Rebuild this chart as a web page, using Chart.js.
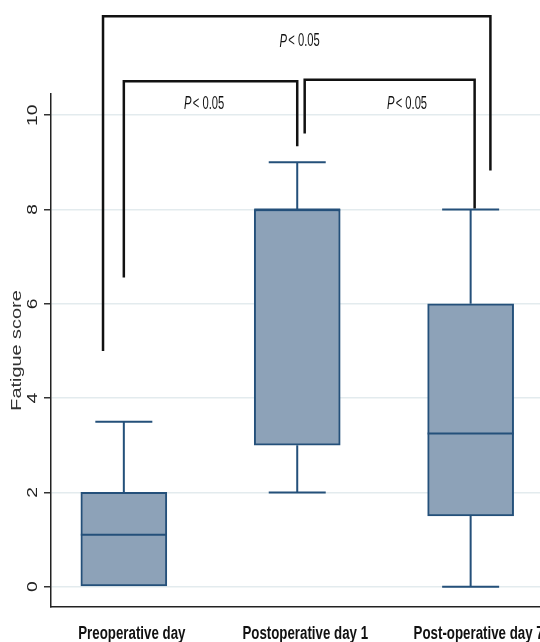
<!DOCTYPE html>
<html>
<head>
<meta charset="utf-8">
<script src="https://cdn.jsdelivr.net/npm/chart.js@4"></script>
<style>
  html, body { margin: 0; padding: 0; background: #fff; }
</style>
</head>
<body>
<canvas id="myChart" width="540" height="642"></canvas>
<script>
const groups = ["Preoperative day", "Postoperative day 1", "Post-operative day 7"];
const whiskerLow = [0, 2, 0];
const quartile1 = [0, 3, 1.5];
const medians = [1.1, 8, 3.25];
const quartile3 = [2, 8, 6];
const whiskerHigh = [3.5, 9, 8];
const yTicks = [0, 2, 4, 6, 8, 10];
const yTitle = "Fatigue score";
const pText = "< 0.05";

// comparison brackets (x in group index units, y in score units)
const brackets = [
  { x1: -0.12, x2: 2.114, top: 12.1, end1: 5.0, end2: 8.83, tx: 1.014, ty: 11.56 },
  { x1: 0.0, x2: 1.0, top: 10.72, end1: 6.56, end2: 9.34, tx: 0.463, ty: 10.23 },
  { x1: 1.043, x2: 2.023, top: 10.75, end1: 9.61, end2: 8.02, tx: 1.633, ty: 10.23 },
];

const boxFill = "#8da2b8";
const boxLine = "#24507a";
const sans = "'Liberation Sans', Arial, sans-serif";
const squeeze = 0.78; // the source picture is stretched vertically

const boxParts = {
  id: "boxParts",
  afterDatasetsDraw(chart) {
    const { ctx, scales } = chart;
    const meta = chart.getDatasetMeta(0);
    ctx.save();
    ctx.strokeStyle = boxLine;
    ctx.lineWidth = 2;
    meta.data.forEach((bar, i) => {
      const cx = bar.x;
      const half = bar.width / 2;
      const cap = 28.5;
      const y = (v) => scales.y.getPixelForValue(v);
      ctx.beginPath();
      // median
      ctx.moveTo(cx - half, y(medians[i]));
      ctx.lineTo(cx + half, y(medians[i]));
      // upper whisker
      if (whiskerHigh[i] > quartile3[i]) {
        ctx.moveTo(cx, y(quartile3[i]));
        ctx.lineTo(cx, y(whiskerHigh[i]));
        ctx.moveTo(cx - cap, y(whiskerHigh[i]));
        ctx.lineTo(cx + cap, y(whiskerHigh[i]));
      }
      // lower whisker
      if (whiskerLow[i] < quartile1[i]) {
        ctx.moveTo(cx, y(quartile1[i]));
        ctx.lineTo(cx, y(whiskerLow[i]));
        ctx.moveTo(cx - cap, y(whiskerLow[i]));
        ctx.lineTo(cx + cap, y(whiskerLow[i]));
      }
      ctx.stroke();
    });
    ctx.restore();
  },
  afterDraw(chart) {
    const { ctx, scales } = chart;
    const px = (v) => scales.x.getPixelForValue(v);
    const py = (v) => scales.y.getPixelForValue(v);
    ctx.save();
    ctx.fillStyle = "#222";
    ctx.textAlign = "center";
    ctx.textBaseline = "middle";

    // rotated y tick labels
    ctx.font = "15px " + sans;
    scales.y.ticks.forEach((t) => {
      ctx.save();
      ctx.translate(33, py(t.value));
      ctx.rotate(-Math.PI / 2);
      ctx.scale(1 / squeeze, 1);
      ctx.fillText(String(t.value), 0, 0);
      ctx.restore();
    });

    // y title
    ctx.save();
    ctx.fillStyle = "#333";
    ctx.font = "15.5px " + sans;
    ctx.translate(17, (scales.y.top + scales.y.bottom) / 2);
    ctx.rotate(-Math.PI / 2);
    ctx.scale(1 / squeeze, 1);
    ctx.fillText(yTitle, 0, 0);
    ctx.restore();

    // x category labels
    ctx.fillStyle = "#111";
    ctx.font = "bold 17.5px " + sans;
    ctx.textBaseline = "alphabetic";
    scales.x.ticks.forEach((t) => {
      ctx.save();
      ctx.translate(px(t.value) + 8, 639);
      ctx.scale(0.76, 1);
      ctx.fillText(groups[t.value], 0, 0);
      ctx.restore();
    });

    // brackets
    ctx.strokeStyle = "#111";
    ctx.lineWidth = 2.5;
    ctx.textBaseline = "middle";
    brackets.forEach((b) => {
      ctx.beginPath();
      ctx.moveTo(px(b.x1), py(b.end1));
      ctx.lineTo(px(b.x1), py(b.top));
      ctx.lineTo(px(b.x2), py(b.top));
      ctx.lineTo(px(b.x2), py(b.end2));
      ctx.stroke();

      ctx.save();
      ctx.translate(px(b.tx), py(b.ty));
      ctx.scale(0.64, 1);
      ctx.font = "italic 17.5px " + sans;
      const pw = ctx.measureText("P").width;
      ctx.font = "17.5px " + sans;
      const rw = ctx.measureText(pText).width;
      const x0 = -(pw + 2 + rw) / 2;
      ctx.textAlign = "left";
      ctx.font = "italic 17.5px " + sans;
      ctx.fillText("P", x0, 0);
      ctx.font = "17.5px " + sans;
      ctx.fillText(pText, x0 + pw + 2, 0);
      ctx.restore();
    });
    ctx.restore();
  },
};

const ctx = document.getElementById("myChart").getContext("2d");

const chart = new Chart(ctx, {
  type: "bar",
  data: {
    datasets: [
      {
        data: groups.map((g, i) => ({ x: i, y: [quartile1[i], quartile3[i]] })),
        backgroundColor: boxFill,
        borderColor: boxLine,
        borderWidth: 2,
        borderSkipped: false,
        barThickness: 86,
      },
    ],
  },
  options: {
    responsive: false,
    animation: false,
    devicePixelRatio: 1,
    layout: { padding: { top: 94, left: 44, right: 0, bottom: 27 } },
    plugins: {
      legend: { display: false },
      tooltip: { enabled: false },
    },
    scales: {
      x: {
        type: "linear",
        offset: false,
        min: -0.42,
        max: 2.4,
        afterBuildTicks: (s) => { s.ticks = groups.map((g, i) => ({ value: i })); },
        grid: { display: false },
        border: { display: true, color: "#222", width: 1.5 },
        ticks: { display: false },
      },
      y: {
        min: -0.43,
        max: 10.45,
        afterBuildTicks: (s) => { s.ticks = yTicks.map((v) => ({ value: v })); },
        grid: { color: "#e3ebee", lineWidth: 1.5, tickColor: "#333", tickLength: 7 },
        border: { color: "#222", width: 1.5 },
        ticks: { display: false },
      },
    },
  },
  plugins: [boxParts],
});
</script>
</body>
</html>
